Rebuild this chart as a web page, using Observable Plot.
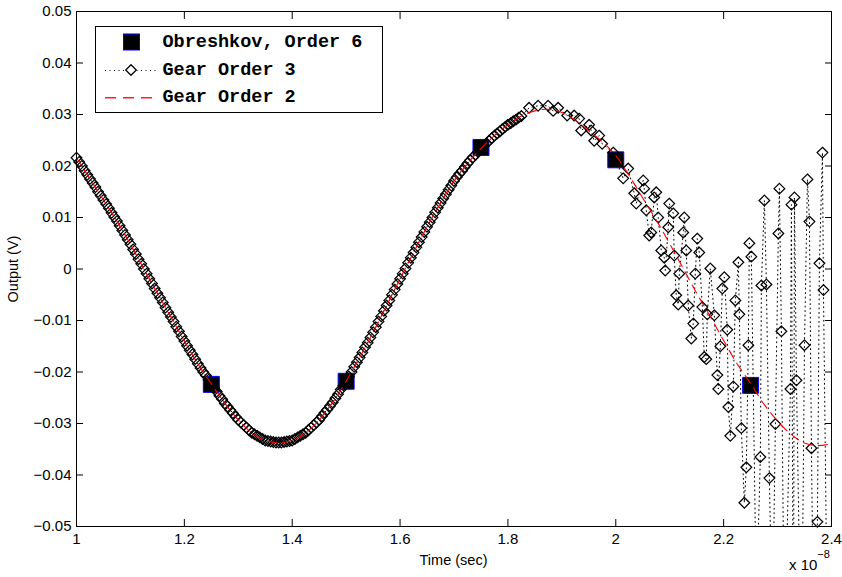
<!DOCTYPE html>
<html>
<head>
<meta charset="utf-8">
<script src="https://cdn.jsdelivr.net/npm/d3@7"></script>
<script src="https://cdn.jsdelivr.net/npm/@observablehq/plot@0.6"></script>
<style>
  html, body { margin: 0; padding: 0; background: #fff; }
  #wrap { position: relative; width: 842px; height: 577px; font-family: "Liberation Sans", Arial, sans-serif; color: #000; overflow: hidden; }
  #wrap svg { display: block; }
  .lbl { position: absolute; font-size: 14.5px; line-height: 16px; white-space: nowrap; }
</style>
</head>
<body>
<div id="wrap"></div>
<script>
// ---- axis ticks ----
const xTicks = [1, 1.2, 1.4, 1.6, 1.8, 2, 2.2, 2.4];
const xTickLabels = ["1", "1.2", "1.4", "1.6", "1.8", "2", "2.2", "2.4"];
const yTicks = [-0.05, -0.04, -0.03, -0.02, -0.01, 0, 0.01, 0.02, 0.03, 0.04, 0.05];
const yTickLabels = ["\u22120.05", "\u22120.04", "\u22120.03", "\u22120.02", "\u22120.01", "0", "0.01", "0.02", "0.03", "0.04", "0.05"];

// ---- series labels ----
const seriesNames = ["Obreshkov, Order 6", "Gear Order 3", "Gear Order 2"];

// ---- Obreshkov, Order 6 : [time (x1e-8 s), output (V)] ----
const obreshkov = [[1.25, -0.0224], [1.5, -0.0218], [1.75, 0.0236], [2.0, 0.0212], [2.25, -0.0226]];

// ---- Gear Order 2 (red dashed) ----
const gear2 = [
  [1.000,0.0216],[1.025,0.0175],[1.050,0.0134],[1.075,0.0093],[1.100,0.0048],[1.125,0.0000],
  [1.150,-0.0047],[1.175,-0.0093],[1.200,-0.0140],[1.225,-0.0184],[1.250,-0.0223],[1.275,-0.0261],
  [1.300,-0.0293],[1.325,-0.0318],[1.350,-0.0333],[1.375,-0.0337],[1.400,-0.0333],[1.425,-0.0318],
  [1.450,-0.0293],[1.475,-0.0259],[1.500,-0.0218],[1.525,-0.0172],[1.550,-0.0123],[1.575,-0.0071],
  [1.600,-0.0019],[1.625,0.0032],[1.650,0.0082],[1.675,0.0128],[1.700,0.0171],[1.725,0.0205],
  [1.750,0.0234],[1.775,0.0259],[1.800,0.0280],[1.825,0.0297],[1.850,0.0307],[1.875,0.0310],
  [1.900,0.0304],[1.925,0.0289],[1.950,0.0268],[1.975,0.0247],[2.000,0.0220],[2.025,0.0181],
  [2.050,0.0138],[2.075,0.0095],[2.100,0.0049],[2.125,0.0001],[2.150,-0.0047],[2.175,-0.0092],
  [2.200,-0.0139],[2.225,-0.0184],[2.250,-0.0222],[2.275,-0.0263],[2.300,-0.0295],[2.325,-0.0321],
  [2.350,-0.0338],[2.375,-0.0343],[2.400,-0.0339]
];

// ---- Gear Order 3 (diamonds, dotted) ----
const gear3 = [
  [1.000,0.0216],[1.005,0.0208],[1.010,0.0200],[1.015,0.0191],[1.020,0.0183],
  [1.025,0.0175],[1.030,0.0167],[1.035,0.0159],[1.040,0.0150],[1.045,0.0142],
  [1.050,0.0134],[1.055,0.0126],[1.060,0.0118],[1.065,0.0109],[1.070,0.0101],
  [1.075,0.0093],[1.080,0.0084],[1.085,0.0075],[1.090,0.0066],[1.095,0.0057],
  [1.100,0.0048],[1.105,0.0038],[1.110,0.0029],[1.115,0.0019],[1.120,0.0010],
  [1.125,0.0000],[1.130,-0.0009],[1.135,-0.0019],[1.140,-0.0028],[1.145,-0.0038],
  [1.150,-0.0047],[1.155,-0.0056],[1.160,-0.0065],[1.165,-0.0075],[1.170,-0.0084],
  [1.175,-0.0093],[1.180,-0.0102],[1.185,-0.0112],[1.190,-0.0121],[1.195,-0.0131],
  [1.200,-0.0140],[1.205,-0.0149],[1.210,-0.0158],[1.215,-0.0166],[1.220,-0.0175],
  [1.225,-0.0184],[1.230,-0.0192],[1.235,-0.0200],[1.240,-0.0207],[1.245,-0.0215],
  [1.250,-0.0223],[1.255,-0.0231],[1.260,-0.0238],[1.265,-0.0246],[1.270,-0.0253],
  [1.275,-0.0261],[1.280,-0.0267],[1.285,-0.0274],[1.290,-0.0280],[1.295,-0.0287],
  [1.300,-0.0293],[1.305,-0.0298],[1.310,-0.0303],[1.315,-0.0308],[1.320,-0.0313],
  [1.325,-0.0318],[1.330,-0.0321],[1.335,-0.0324],[1.340,-0.0327],[1.345,-0.0330],
  [1.350,-0.0333],[1.355,-0.0334],[1.360,-0.0335],[1.365,-0.0336],[1.370,-0.0337],
  [1.375,-0.0337],[1.380,-0.0337],[1.385,-0.0336],[1.390,-0.0335],[1.395,-0.0334],
  [1.400,-0.0333],[1.405,-0.0330],[1.410,-0.0327],[1.415,-0.0324],[1.420,-0.0321],
  [1.425,-0.0318],[1.430,-0.0313],[1.435,-0.0308],[1.440,-0.0303],[1.445,-0.0298],
  [1.450,-0.0293],[1.455,-0.0286],[1.460,-0.0279],[1.465,-0.0273],[1.470,-0.0266],
  [1.475,-0.0259],[1.480,-0.0251],[1.485,-0.0243],[1.490,-0.0234],[1.495,-0.0226],
  [1.500,-0.0218],[1.505,-0.0209],[1.510,-0.0200],[1.515,-0.0190],[1.520,-0.0181],
  [1.525,-0.0172],[1.530,-0.0162],[1.535,-0.0152],[1.540,-0.0143],[1.545,-0.0133],
  [1.550,-0.0123],[1.555,-0.0113],[1.560,-0.0102],[1.565,-0.0092],[1.570,-0.0081],
  [1.575,-0.0071],[1.580,-0.0061],[1.585,-0.0050],[1.590,-0.0040],[1.595,-0.0029],
  [1.600,-0.0019],[1.605,-0.0009],[1.610,0.0001],[1.615,0.0012],[1.620,0.0022],
  [1.625,0.0032],[1.630,0.0042],[1.635,0.0052],[1.640,0.0062],[1.645,0.0072],
  [1.650,0.0082],[1.655,0.0091],[1.660,0.0100],[1.665,0.0110],[1.670,0.0119],
  [1.675,0.0128],[1.680,0.0137],[1.685,0.0145],[1.690,0.0154],[1.695,0.0162],
  [1.700,0.0171],[1.705,0.0178],[1.710,0.0185],[1.715,0.0191],[1.720,0.0198],
  [1.725,0.0205],[1.730,0.0211],[1.735,0.0217],[1.740,0.0222],[1.745,0.0228],
  [1.750,0.0234],[1.755,0.0239],[1.760,0.0244],[1.765,0.0249],[1.770,0.0254],
  [1.775,0.0259],[1.780,0.0263],[1.785,0.0267],[1.790,0.0272],[1.795,0.0276],
  [1.800,0.0280],[1.805,0.0283],[1.810,0.0287],[1.815,0.0290],[1.820,0.0294],
  [1.825,0.0297],
  [1.8392,0.0313],[1.8559,0.0317],[1.8745,0.0317],[1.8838,0.0307],[1.8931,0.0313],
  [1.9098,0.0298],[1.9228,0.0298],[1.9321,0.0292],[1.9358,0.0269],[1.9506,0.0280],
  [1.9543,0.0269],[1.9599,0.0249],[1.9692,0.0259],[1.9748,0.0243],[1.9952,0.0226],
  [2.0137,0.0176],[2.0230,0.0195],[2.0342,0.0147],[2.0379,0.0127],[2.0509,0.0172],
  [2.0527,0.0156],[2.0565,0.0114],[2.0620,0.0065],[2.0657,0.0071],[2.0713,0.0139],
  [2.0750,0.0149],[2.0787,0.0100],[2.0843,0.0036],[2.0899,0.0022],[2.0917,-0.0003],
  [2.0973,0.0081],[2.0991,0.0127],[2.1066,0.0108],[2.1084,0.0026],[2.1121,-0.0051],
  [2.1158,-0.0069],[2.1177,-0.0009],[2.1251,0.0071],[2.1270,0.0100],[2.1307,0.0036],
  [2.1344,-0.0071],[2.1400,-0.0135],[2.1437,-0.0106],[2.1474,-0.0009],[2.1511,0.0059],
  [2.1548,0.0032],[2.1604,-0.0074],[2.1641,-0.0171],[2.1678,-0.0175],[2.1697,-0.0088],
  [2.1753,0.0001],[2.1827,-0.0090],[2.1883,-0.0206],[2.1901,-0.0233],[2.1938,-0.0150],
  [2.1976,-0.0038],[2.2013,-0.0016],[2.2068,-0.0118],[2.2087,-0.0268],[2.2124,-0.0324],
  [2.2180,-0.0228],[2.2217,-0.0061],[2.2273,0.0013],[2.2291,-0.0088],[2.2328,-0.0309],
  [2.2384,-0.0454],[2.2421,-0.0385],[2.2458,-0.0148],[2.2477,0.0050],[2.2514,0.0024],
  [2.2607,-0.0650],[2.2681,-0.0365],[2.2700,-0.0032],[2.2755,0.0133],[2.2793,-0.0030],
  [2.2848,-0.0406],[2.2904,-0.0700],[2.2960,-0.0301],[2.3015,0.0069],[2.3034,0.0156],
  [2.3071,-0.0121],[2.3127,-0.0750],[2.3238,-0.0233],[2.3257,0.0125],[2.3294,-0.0800],
  [2.3313,0.0139],[2.3350,-0.0216],[2.3442,-0.0800],[2.3499,-0.0148],[2.3554,0.0174],
  [2.3591,0.0092],[2.3628,-0.0348],[2.3684,-0.0850],[2.3739,-0.0491],[2.3776,0.0011],
  [2.3832,0.0226],[2.3851,-0.0041],[2.3944,-0.0900]
];

const xDomain = [1, 2.4];
const yDomain = [-0.05, 0.05];
const inside = d => d[1] >= yDomain[0] && d[1] <= yDomain[1];
const fmtX = d => xTickLabels[xTicks.indexOf(d)];
const fmtY = d => yTickLabels[yTicks.indexOf(d)];

const chart = Plot.plot({
  width: 842,
  height: 577,
  marginLeft: 76,
  marginRight: 11,
  marginTop: 11,
  marginBottom: 51,
  x: { domain: xDomain },
  y: { domain: yDomain },
  style: { fontFamily: "'Liberation Sans', Arial, sans-serif", fontSize: "15px", background: "#fff", color: "#000" },
  marks: [
    Plot.dot(obreshkov, { x: d => d[0], y: d => d[1], symbol: "square", r: 9, fill: "#000", stroke: "#0000ff", strokeWidth: 1 }),
    Plot.line(gear3, { x: d => d[0], y: d => d[1], stroke: "#000", strokeWidth: 1, strokeDasharray: "1,3.5", clip: true }),
    Plot.dot(gear3, { filter: inside, x: d => d[0], y: d => d[1], symbol: "diamond2", r: 4.8, fill: "none", stroke: "#000", strokeWidth: 1.25 }),
    Plot.line(gear2, { x: d => d[0], y: d => d[1], stroke: "#ff0000", strokeWidth: 1.1, strokeDasharray: "9,6", curve: "catmull-rom" }),
    Plot.frame({ stroke: "#000", strokeWidth: 1 }),
    Plot.axisX({ ticks: xTicks, tickFormat: fmtX, tickSize: 0, tickPadding: 7, label: null }),
    Plot.axisX({ ticks: xTicks, tickFormat: () => "", tickSize: -7, anchor: "bottom", label: null }),
    Plot.axisX({ ticks: xTicks, tickFormat: () => "", tickSize: -7, anchor: "top", label: null }),
    Plot.axisY({ ticks: yTicks, tickFormat: fmtY, tickSize: 0, tickPadding: 5, label: null }),
    Plot.axisY({ ticks: yTicks, tickFormat: () => "", tickSize: -7, anchor: "left", label: null }),
    Plot.axisY({ ticks: yTicks, tickFormat: () => "", tickSize: -7, anchor: "right", label: null })
  ]
});

const wrap = document.getElementById("wrap");
wrap.appendChild(chart);

// axis titles
const xTitle = document.createElement("div");
xTitle.className = "lbl";
xTitle.style.left = "353px"; xTitle.style.width = "201px"; xTitle.style.textAlign = "center";
xTitle.style.top = "552px";
xTitle.textContent = "Time (sec)";
wrap.appendChild(xTitle);

const yTitle = document.createElement("div");
yTitle.className = "lbl";
yTitle.style.left = "-87px"; yTitle.style.width = "200px"; yTitle.style.textAlign = "center";
yTitle.style.top = "261px";
yTitle.style.transform = "rotate(-90deg)";
yTitle.textContent = "Output (V)";
wrap.appendChild(yTitle);

const expo = document.createElement("div");
expo.className = "lbl";
expo.style.left = "789px"; expo.style.top = "557px"; expo.style.fontSize = "15px";
expo.innerHTML = 'x 10<span style="position:relative;top:-12px;font-size:11px;">\u22128</span>';
wrap.appendChild(expo);

// legend
const ns = "http://www.w3.org/2000/svg";
const leg = document.createElementNS(ns, "svg");
leg.setAttribute("width", 290); leg.setAttribute("height", 88);
leg.style.position = "absolute"; leg.style.left = "95px"; leg.style.top = "26px";
const add = (tag, attrs) => { const el = document.createElementNS(ns, tag); for (const k in attrs) el.setAttribute(k, attrs[k]); leg.appendChild(el); return el; };
add("rect", { x: 0.5, y: 0.5, width: 287, height: 86, fill: "#fff", stroke: "#000", "stroke-width": 1 });
const rows = [16, 44, 71];
add("rect", { x: 28.5, y: rows[0] - 8, width: 16, height: 16, fill: "#000", stroke: "#0000ff", "stroke-width": 1 });
add("path", { d: `M10,${rows[1] + 0.5}H61`, fill: "none", stroke: "#000", "stroke-dasharray": "1,3.5" });
add("path", { d: `M36,${rows[1] - 5.3}L41.3,${rows[1]}L36,${rows[1] + 5.3}L30.7,${rows[1]}Z`, fill: "#fff", stroke: "#000", "stroke-width": 1.25 });
[10, 28, 46].forEach(x0 => add("rect", { x: x0, y: rows[2], width: 11, height: 1.5, fill: "#ff2020" }));
seriesNames.forEach((name, i) => {
  const t = add("text", { x: 67.5, y: rows[i], "dominant-baseline": "central", "font-family": "'Liberation Mono', 'Courier New', monospace", "font-weight": "bold", "font-size": "18.5px", fill: "#000" });
  t.textContent = name;
});
wrap.appendChild(leg);
</script>
</body>
</html>
